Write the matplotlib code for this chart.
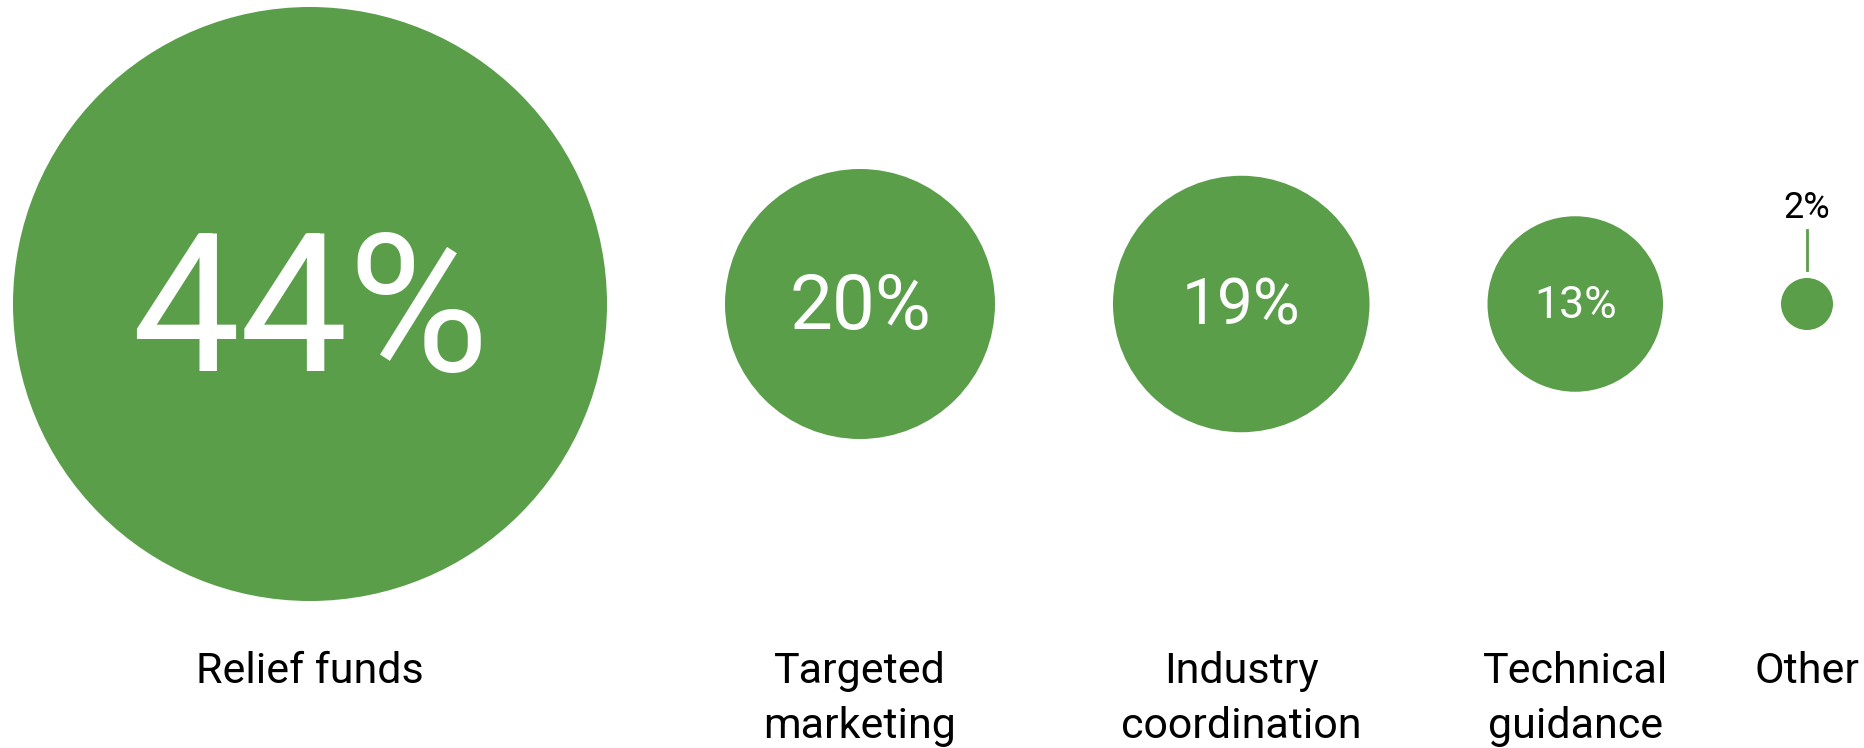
import matplotlib
matplotlib.use('Agg')
import matplotlib.pyplot as plt
from matplotlib.patches import Circle

# Shares of responses, in percent
categories = ["Relief funds", "Targeted\nmarketing", "Industry\ncoordination",
              "Technical\nguidance", "Other"]
shares = [44, 20, 19, 13, 2]
share_labels = ["44%", "20%", "19%", "13%", "2%"]

green = '#5a9e4a'
W, H = 1864, 748
DPI = 100

fig = plt.figure(figsize=(W / DPI, H / DPI), dpi=DPI)
ax = fig.add_axes([0, 0, 1, 1])
ax.set_xlim(0, W)
ax.set_ylim(H, 0)
ax.set_aspect('equal')
ax.axis('off')

px_per_pct = 297 / 44.0   # radius scale
min_r = 26
gap = 118
cy = 304
left = 13
# font size of the percent inside each circle (points)
inner_sizes = [139, 55, 46, 32]

x = left
for i, (cat, v, lab) in enumerate(zip(categories, shares, share_labels)):
    r = max(v * px_per_pct, min_r)
    cx = x + r
    ax.add_patch(Circle((cx, cy), r, color=green, lw=0))
    if i < len(inner_sizes):
        fs = inner_sizes[i]
        cap = 0.711 * fs * DPI / 72
        ax.text(cx, cy + cap / 2 - 2, lab, color='white', fontsize=fs,
                ha='center', va='baseline', family='Roboto')
    else:
        # small circle: label above with a leader line
        ax.plot([cx, cx], [cy - r - 8, cy - r - 48], color=green, lw=2)
        ax.text(cx, cy - r - 60, lab, color='black', fontsize=26,
                ha='center', va='baseline', family='Roboto')
    # category name, one line at a time
    for k, line in enumerate(cat.split('\n')):
        ax.text(cx, 683 + k * 55, line, color='black', fontsize=31,
                ha='center', va='baseline', family='Roboto')
    x = cx + r + gap

fig.savefig('out.png', dpi=DPI)
